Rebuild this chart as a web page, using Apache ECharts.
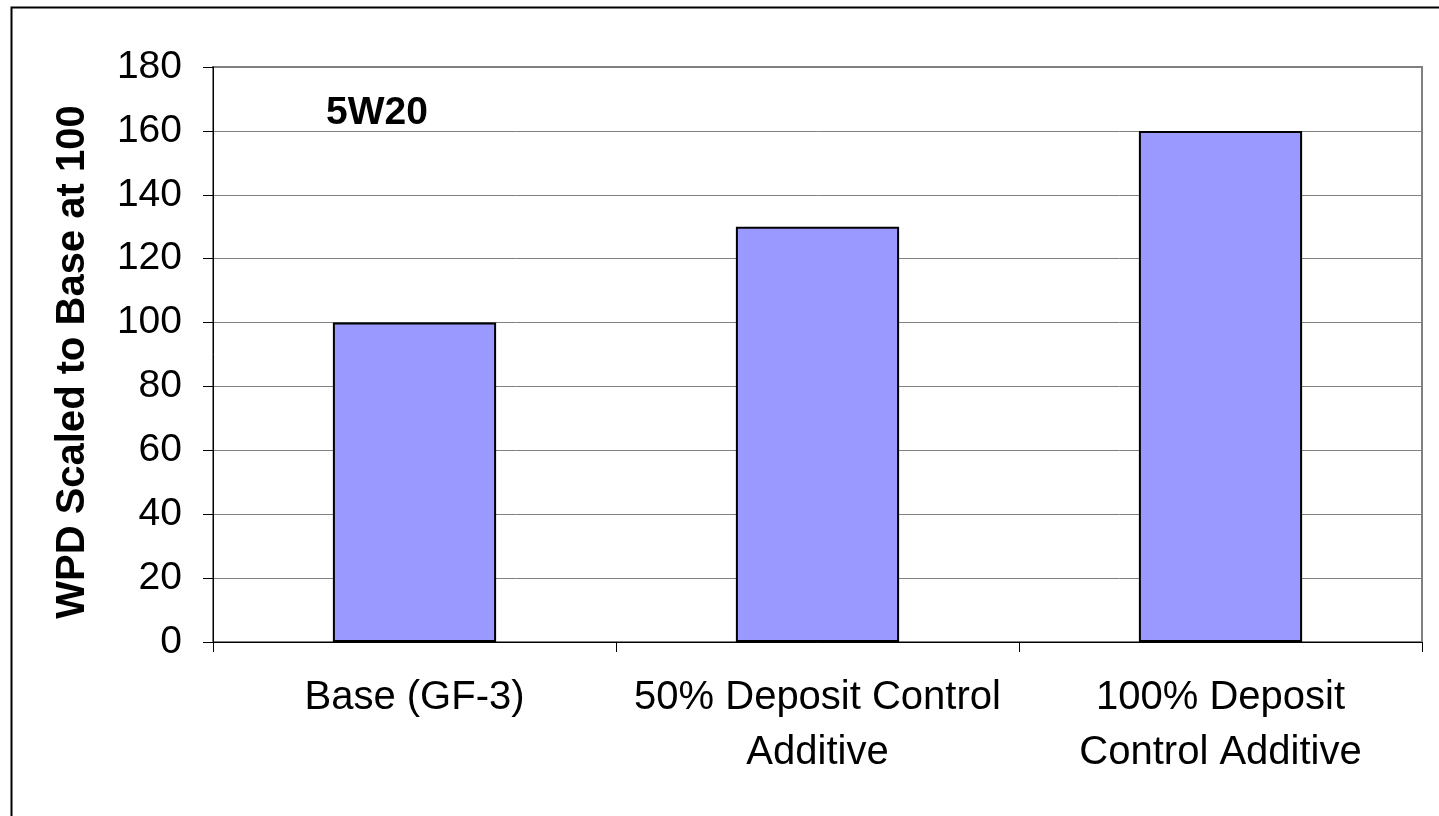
<!DOCTYPE html>
<html>
<head>
<meta charset="utf-8">
<script src="https://cdn.jsdelivr.net/npm/echarts@6/dist/echarts.min.js"></script>
<style>
  html, body { margin: 0; padding: 0; background: #fff; }
  #chart { width: 1439px; height: 816px; }
</style>
</head>
<body>
<div id="chart"></div>
<script>
// Wear performance by additive treatment, 5W20 oil
const categories = ['Base (GF-3)', '50% Deposit Control\nAdditive', '100% Deposit\nControl Additive'];
const wpdValues = [100, 130, 160];
const yTicks = { min: 0, max: 180, step: 20 };
const yTitle = 'WPD Scaled to Base at 100';
const gradeLabel = '5W20';

const font = 'Arial, "Liberation Sans", sans-serif';
const chart = echarts.init(document.getElementById('chart'), null, { renderer: 'canvas' });

chart.setOption({
  backgroundColor: '#ffffff',
  animation: false,
  grid: {
    left: 213, right: 17, top: 67, bottom: 174,
    show: true, borderColor: '#808080', borderWidth: 2, backgroundColor: 'transparent'
  },
  graphic: [
    {
      // outer chart frame
      type: 'rect', left: 9, top: 5, z: -1,
      shape: { width: 1440, height: 820 },
      style: { fill: 'none', stroke: '#000', lineWidth: 2 }
    },
    {
      // oil grade tag
      type: 'text', x: 326, y: 113,
      style: {
        text: gradeLabel, font: 'bold 39px ' + font, fill: '#000',
        textAlign: 'left', textVerticalAlign: 'middle'
      }
    },
    {
      // value axis title
      type: 'text', x: 73, y: 362, rotation: Math.PI / 2,
      style: {
        text: yTitle, font: 'bold 40px ' + font, fill: '#000',
        textAlign: 'center', textVerticalAlign: 'middle'
      }
    }
  ],
  xAxis: {
    type: 'category',
    data: categories,
    axisLine: { show: true, lineStyle: { color: '#000', width: 1 } },
    axisTick: { show: true, length: 10, alignWithLabel: false, lineStyle: { color: '#000' } },
    axisLabel: {
      margin: 28, color: '#000', fontFamily: font, fontSize: 40, lineHeight: 55, interval: 0
    },
    splitLine: { show: false }
  },
  yAxis: {
    type: 'value',
    min: yTicks.min, max: yTicks.max, interval: yTicks.step,
    axisLine: { show: true, lineStyle: { color: '#000', width: 1 } },
    axisTick: { show: true, inside: false, length: 10, lineStyle: { color: '#000' } },
    axisLabel: { margin: 31, color: '#000', fontFamily: font, fontSize: 39 },
    splitLine: { show: true, lineStyle: { color: '#808080', width: 1 } }
  },
  series: [{
    type: 'bar',
    data: wpdValues,
    barWidth: '40.5%',
    itemStyle: { color: '#9999FF', borderColor: '#000', borderWidth: 2 }
  }]
});
</script>
</body>
</html>
